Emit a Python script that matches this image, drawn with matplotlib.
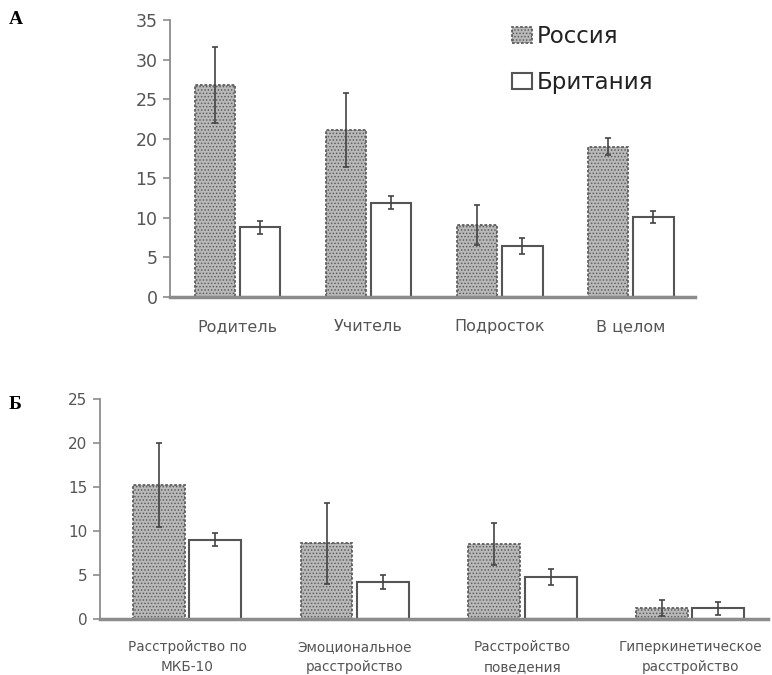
import matplotlib
matplotlib.use('Agg')
import matplotlib.pyplot as plt
import numpy as np

# panel A data
cats_a = ['Родитель', 'Учитель', 'Подросток', 'В целом']
russia_a = [26.8, 21.1, 9.1, 19.0]
russia_a_err = [4.8, 4.7, 2.5, 1.1]
britain_a = [8.8, 11.9, 6.4, 10.1]
britain_a_err = [0.8, 0.8, 1.0, 0.75]

# panel B data
cats_b = ['Расстройство по\nМКБ-10', 'Эмоциональное\nрасстройство',
          'Расстройство\nповедения', 'Гиперкинетическое\nрасстройство']
russia_b = [15.2, 8.6, 8.5, 1.2]
russia_b_err = [4.8, 4.6, 2.4, 0.9]
britain_b = [9.0, 4.2, 4.8, 1.2]
britain_b_err = [0.75, 0.85, 0.9, 0.7]

legend_labels = ['Россия', 'Британия']

plt.rcParams['font.family'] = ['DejaVu Sans']
plt.rcParams['hatch.linewidth'] = 0.7

GRAY_FILL = '#b9b9b9'
EDGE = '#555555'
AXC = '#8c8c8c'
TXT = '#555555'


def draw_panel(ax, cats, rus, rus_err, brit, brit_err, width, off, ymax, ystep,
               xlim, ytick_fs, xtick_fs, pad):
    x = np.arange(len(cats))
    b1 = ax.bar(x - off, rus, width, color=GRAY_FILL, edgecolor='#5e5e5e',
                hatch='.....', linewidth=1.3, linestyle=(0, (1.5, 1)),
                label=legend_labels[0], zorder=2)
    b2 = ax.bar(x + off, brit, width, color='white', edgecolor=EDGE,
                linewidth=1.5, label=legend_labels[1], zorder=2)
    ax.errorbar(x - off, rus, yerr=rus_err, fmt='none', ecolor='#444444',
                elinewidth=1.2, capsize=2.5, capthick=1.2, zorder=3)
    ax.errorbar(x + off, brit, yerr=brit_err, fmt='none', ecolor='#444444',
                elinewidth=1.2, capsize=2.5, capthick=1.2, zorder=3)
    ax.set_xlim(*xlim)
    ax.set_ylim(0, ymax)
    ax.set_yticks(np.arange(0, ymax + 0.1, ystep))
    ax.set_xticks(x)
    ax.set_xticklabels(cats, fontsize=xtick_fs, color=TXT, linespacing=1.6)
    ax.tick_params(axis='x', length=0, pad=pad)
    ax.tick_params(axis='y', length=5, width=1.2, color=AXC,
                   labelsize=ytick_fs, labelcolor=TXT, pad=4)
    for s in ['top', 'right']:
        ax.spines[s].set_visible(False)
    ax.spines['left'].set_color(AXC)
    ax.spines['left'].set_linewidth(1.3)
    ax.spines['bottom'].set_color(AXC)
    ax.spines['bottom'].set_linewidth(2.5)
    ax.spines['left'].set_zorder(4)
    return b1, b2


fig = plt.figure(figsize=(7.72, 6.75), dpi=100)

ax1 = fig.add_axes([0.2202, 0.56, 0.680, 0.4104])
b1, b2 = draw_panel(ax1, cats_a, russia_a, russia_a_err, britain_a, britain_a_err,
                    0.31, 0.172, 35, 5, (-0.515, 3.49), 12.5, 11.5, 16)
leg = ax1.legend(handles=[b1, b2], loc='upper left',
                 bbox_to_anchor=(512 / 772, 1 - 25 / 675),
                 bbox_transform=fig.transFigure, frameon=False, fontsize=16.5,
                 handlelength=0.87, handleheight=0.65, handletextpad=0.2,
                 labelspacing=1.0, borderpad=0, borderaxespad=0)
for t in leg.get_texts():
    t.set_color('#222222')

ax2 = fig.add_axes([0.1295, 0.083, 0.8653, 0.326])
draw_panel(ax2, cats_b, russia_b, russia_b_err, britain_b, britain_b_err,
           0.31, 0.168, 25, 5, (-0.519, 3.465), 11, 9.8, 15)

fig.text(9 / 772, 1 - 20 / 675, 'А', fontsize=14, fontweight='bold',
         family='Liberation Serif', va='center', ha='left')
fig.text(9 / 772, 1 - 404 / 675, 'Б', fontsize=14, fontweight='bold',
         family='Liberation Serif', va='center', ha='left')

fig.savefig('out.png', dpi=100)
